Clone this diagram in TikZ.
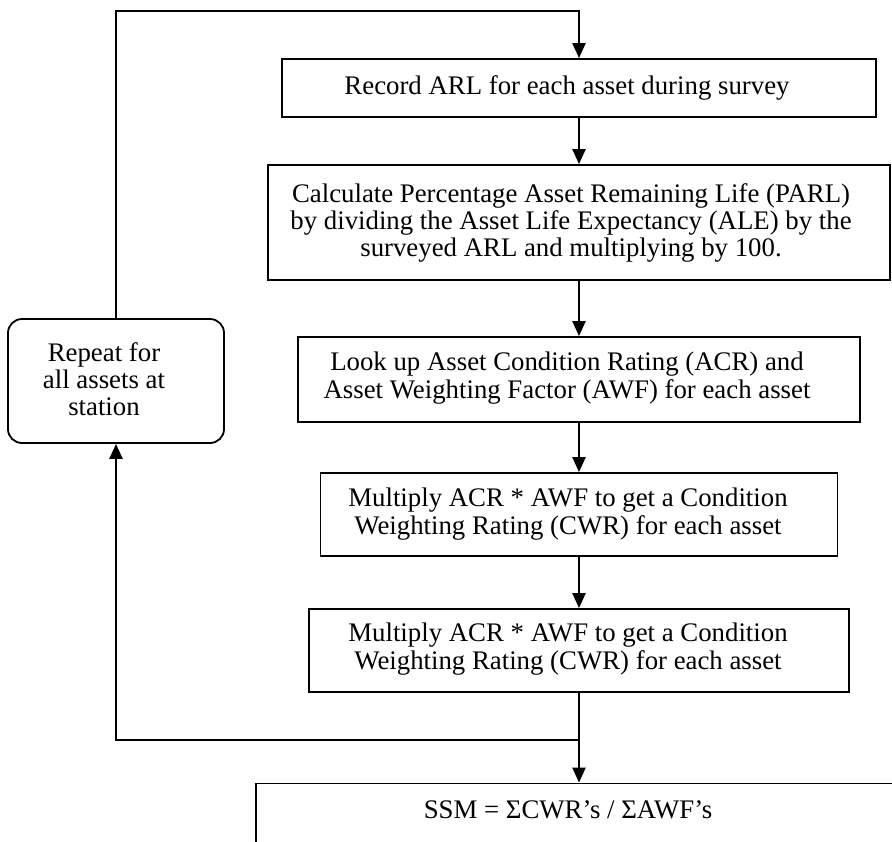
\documentclass[tikz,border=0pt]{standalone}
\usepackage{fontspec}
\setmainfont{Liberation Serif}
\usetikzlibrary{arrows.meta}
\begin{document}
\begin{tikzpicture}[x=0.5pt,y=-0.5pt,
  box/.style={draw, line width=0.9pt, inner sep=0pt},
  txt/.style={inner sep=0pt, align=center, font=\fontsize{13.4}{13.6}\selectfont},
  conn/.style={line width=1.15pt},
  arr/.style={line width=1.15pt, -{Triangle[length=7.5pt,width=6.5pt]}}]
\useasboundingbox (0,0) rectangle (892,841);
\clip (0,0) rectangle (892,841);
% boxes
\node[box, minimum width=297pt, minimum height=29pt] (b1) at (579,88) {};
\node[box, minimum width=311pt, minimum height=57.5pt] (b2) at (579,222.5) {};
\node[box, minimum width=281pt, minimum height=42.5pt] (b3) at (579,379.5) {};
\node[box, minimum width=258.5pt, minimum height=41.5pt] (b4) at (579,514.5) {};
\node[box, minimum width=270pt, minimum height=41.5pt] (b5) at (579,650.5) {};
\node[box, rounded corners=7pt, minimum width=108pt, minimum height=62pt] (rep) at (116,381) {};
\node[box, minimum width=323pt, minimum height=58pt] (ssm) at (579,841.5) {};
% texts
\node[txt] (t1) at (567,88) {Record ARL for each asset during survey};
\node[txt] (t2) at (571,223) {Calculate Percentage Asset Remaining Life (PARL)\\by dividing the Asset Life Expectancy (ALE) by the\\surveyed ARL and multiplying by 100.};
\node[txt] (t3) at (567,378) {Look up Asset Condition Rating (ACR) and\\Asset Weighting Factor (AWF) for each asset};
\node[txt] (t4) at (568,514) {Multiply ACR * AWF to get a Condition\\Weighting Rating (CWR) for each asset};
\node[txt] (t5) at (568,649) {Multiply ACR * AWF to get a Condition\\Weighting Rating (CWR) for each asset};
\node[txt] (trep) at (104,379) {Repeat for\\all assets at\\station};
\node[txt] (tssm) at (568,810) {SSM = ΣCWR’s / ΣAWF’s};
% connectors
\coordinate (tl) at (116,11);
\coordinate (tr) at (579,11);
\coordinate (j) at (579,740);
\coordinate (bl) at (116,740);
\draw[arr] (rep.north) -- (tl) -- (tr) -- (b1.north);
\draw[arr] (b1.south) -- (b2.north);
\draw[arr] (b2.south) -- (b3.north);
\draw[arr] (b3.south) -- (b4.north);
\draw[arr] (b4.south) -- (b5.north);
\draw[arr] (b5.south) -- (ssm.north);
\draw[arr] (j) -- (bl) -- (rep.south);
\end{tikzpicture}
\end{document}
